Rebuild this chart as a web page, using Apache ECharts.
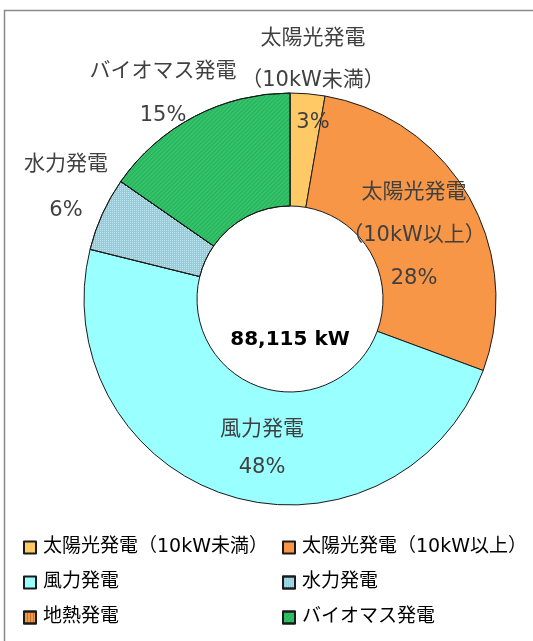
<!DOCTYPE html>
<html>
<head>
<meta charset="utf-8">
<script src="https://cdn.jsdelivr.net/npm/echarts@6/dist/echarts.min.js"></script>
<style>
    html, body { margin: 0; padding: 0; background: #fff; }
    #chart { width: 533px; height: 641px; }
</style>
</head>
<body>
<div id="chart"></div>
<script type="text/javascript">
    // 再生可能エネルギー 設備容量の内訳 (kW)
    var names = ['太陽光発電（10kW未満）', '太陽光発電（10kW以上）', '風力発電', '水力発電', '地熱発電', 'バイオマス発電'];
    var values = [2400, 24600, 42500, 5100, 0, 13515];
    var colors = ['#FFC966', '#F79646', '#99FFFF', '#92CDDC', '#EE9A4D', '#33C46A'];

    // ラベルの配置 (中心座標)
    var labelPos = [[313, 81], [414, 236], [262, 449], [66, 188], [0, 0], [163, 94]];
    var labelLineH = [42, 43, 38, 46, 40, 44];

    var FONT = '"DejaVu Sans", "Noto Sans CJK JP", sans-serif';

    var total = 0;
    for (var i = 0; i < values.length; i++) { total += values[i]; }

    var decals = [
        null,
        null,
        null,
        {symbol: 'rect', symbolSize: 1, color: 'rgba(255,255,255,0.45)', dashArrayX: [1, 1], dashArrayY: [1, 1]},
        {symbol: 'rect', symbolSize: 1, color: 'rgba(170,70,0,0.5)', dashArrayX: [1, 2], dashArrayY: [1, 0]},
        {symbol: 'rect', symbolSize: 1, color: 'rgba(0,90,40,0.22)', dashArrayX: [1, 0], dashArrayY: [1, 2], rotation: -Math.PI / 4}
    ];

    var pieData = [];
    for (var i = 0; i < names.length; i++) {
        var item = {
            name: names[i],
            value: values[i],
            itemStyle: {color: colors[i]},
            label: {lineHeight: labelLineH[i]}
        };
        if (decals[i]) { item.itemStyle.decal = decals[i]; }
        if (values[i] === 0) { item.label.show = false; }
        pieData.push(item);
    }

    var legendText = {fontFamily: FONT, fontSize: 19, color: '#000', padding: [0, 0, 0, 2]};

    var myChart = echarts.init(document.getElementById('chart'));
    var option = {
        backgroundColor: '#fff',
        animation: false,
        graphic: [
            {
                type: 'rect', silent: true, z: -1,
                shape: {x: 4.5, y: 10.5, width: 600, height: 700},
                style: {fill: 'none', stroke: '#8a8a8a', lineWidth: 1.5}
            },
            {
                type: 'text', z: 10,
                x: 290, y: 340,
                style: {
                    text: total.toLocaleString('en-US') + ' kW',
                    font: 'bold 20px ' + FONT,
                    fill: '#000',
                    textAlign: 'center',
                    textVerticalAlign: 'middle'
                }
            }
        ],
        legend: [
            {
                data: [names[0], names[2], names[4]],
                orient: 'vertical',
                left: 18, top: 533,
                itemWidth: 12, itemHeight: 12, itemGap: 16,
                icon: 'rect',
                textStyle: legendText
            },
            {
                data: [names[1], names[3], names[5]],
                orient: 'vertical',
                left: 277, top: 533,
                itemWidth: 12, itemHeight: 12, itemGap: 16,
                icon: 'rect',
                textStyle: legendText
            }
        ],
        series: [{
            type: 'pie',
            center: [290, 299],
            radius: [93, 206],
            startAngle: 90,
            clockwise: true,
            percentPrecision: 0,
            avoidLabelOverlap: false,
            itemStyle: {borderColor: '#1a1a1a', borderWidth: 1},
            label: {
                position: 'inside',
                fontFamily: FONT,
                fontSize: 21,
                color: '#404040',
                align: 'center',
                formatter: function (p) {
                    return p.name.replace('（', '\n（') + '\n' + p.percent + '%';
                }
            },
            labelLine: {show: false},
            labelLayout: function (params) {
                var pos = labelPos[params.dataIndex];
                return {x: pos[0], y: pos[1], align: 'center', verticalAlign: 'middle'};
            },
            emphasis: {disabled: true},
            data: pieData
        }]
    };
    myChart.setOption(option, true);
</script>
</body>
</html>
